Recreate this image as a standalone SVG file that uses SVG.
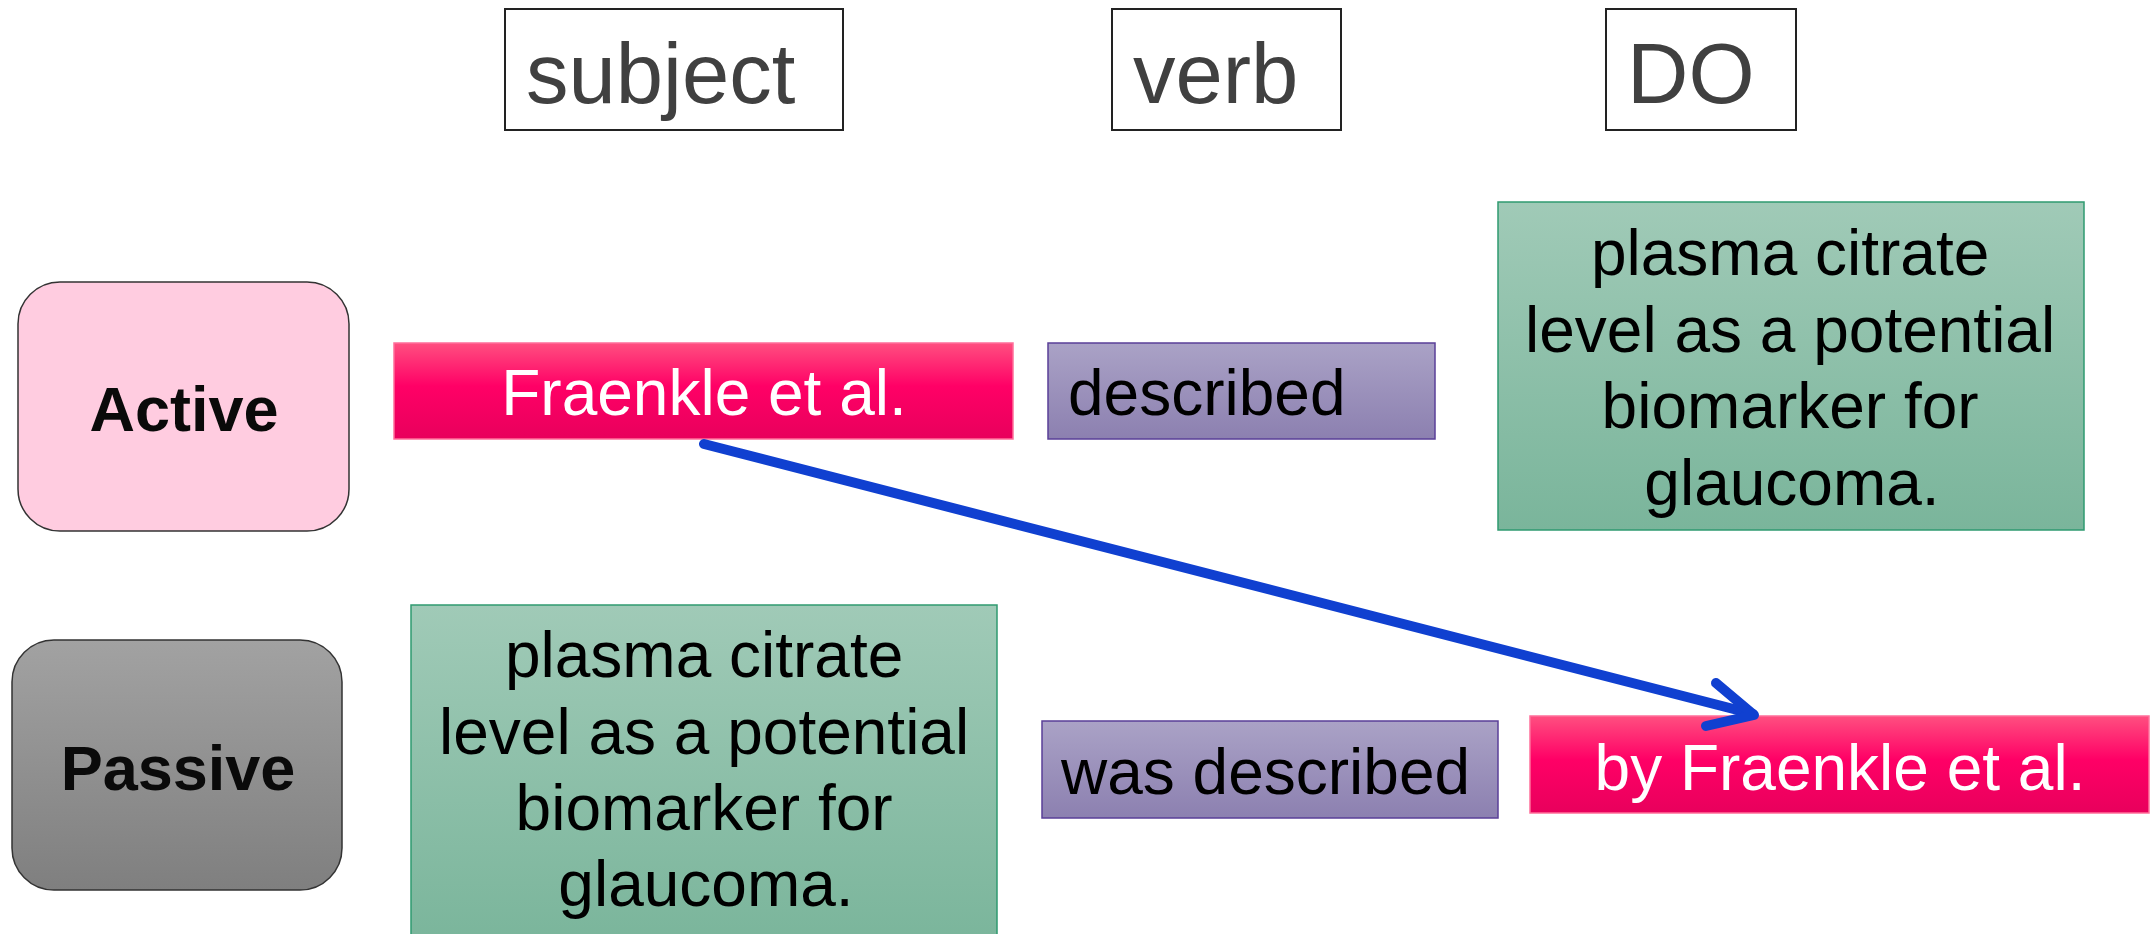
<svg xmlns="http://www.w3.org/2000/svg" width="2153" height="934" viewBox="0 0 2153 934">
<defs>
<linearGradient id="gPink" x1="0" y1="0" x2="0" y2="1">
<stop offset="0" stop-color="#ff4f80"/>
<stop offset="0.45" stop-color="#ff0066"/>
<stop offset="1" stop-color="#e8005c"/>
</linearGradient>
<linearGradient id="gPurple" x1="0" y1="0" x2="0" y2="1">
<stop offset="0" stop-color="#aaa2c6"/>
<stop offset="1" stop-color="#8c80b0"/>
</linearGradient>
<linearGradient id="gGreen" x1="0" y1="0" x2="0" y2="1">
<stop offset="0" stop-color="#a0cab7"/>
<stop offset="1" stop-color="#7ab59b"/>
</linearGradient>
<linearGradient id="gGray" x1="0" y1="0" x2="0" y2="1">
<stop offset="0" stop-color="#a2a2a2"/>
<stop offset="1" stop-color="#7f7f7f"/>
</linearGradient>
</defs>
<style>
text{font-family:"Liberation Sans",Arial,sans-serif;}
.hdr{fill:#ffffff;stroke:#222222;stroke-width:2;}
.hdrt{font-size:85px;fill:#404040;}
.body{font-size:64px;fill:#000000;}
.white{font-size:64px;fill:#ffffff;}
.bold{font-size:63px;font-weight:bold;fill:#0a0a0a;}
.pink{fill:url(#gPink);stroke:#ff6f9a;stroke-width:1.5;}
.purple{fill:url(#gPurple);stroke:#5a3f98;stroke-width:1.5;}
.green{fill:url(#gGreen);stroke:#2f9a70;stroke-width:1.5;}
.conn{fill:none;stroke:#1040d0;stroke-width:10;stroke-linecap:round;stroke-linejoin:round;}
</style>
<g id="hdr-subject">
<rect class="hdr" x="505" y="9" width="338" height="121"/>
<text class="hdrt" x="526" y="103">subject</text>
</g>
<g id="hdr-verb">
<rect class="hdr" x="1112" y="9" width="229" height="121"/>
<text class="hdrt" x="1133" y="103">verb</text>
</g>
<g id="hdr-do">
<rect class="hdr" x="1606" y="9" width="190" height="121"/>
<text class="hdrt" x="1627" y="103">DO</text>
</g>
<g id="active">
<rect x="18" y="282" width="331" height="249" rx="42" ry="42" fill="#ffcce0" stroke="#333333" stroke-width="1.5"/>
<text class="bold" x="184" y="431" text-anchor="middle">Active</text>
</g>
<g id="passive">
<rect x="12" y="640" width="330" height="250" rx="42" ry="42" fill="url(#gGray)" stroke="#333333" stroke-width="1.5"/>
<text class="bold" x="178" y="790" text-anchor="middle">Passive</text>
</g>
<g id="active-subject">
<rect class="pink" x="394" y="343" width="619" height="96"/>
<text class="white" x="704" y="415" text-anchor="middle">Fraenkle et al.</text>
</g>
<g id="active-verb">
<rect class="purple" x="1048" y="343" width="387" height="96"/>
<text class="body" x="1068" y="415">described</text>
</g>
<g id="active-do">
<rect class="green" x="1498" y="202" width="586" height="328"/>
<text class="body" text-anchor="middle">
<tspan x="1799" y="275">plasma citrate</tspan>
<tspan x="1799" y="352">level as a potential</tspan>
<tspan x="1799" y="428">biomarker for</tspan>
<tspan x="1792" y="505">glaucoma.</tspan>
</text>
</g>
<g id="passive-subject">
<rect class="green" x="411" y="605" width="586" height="340"/>
<text class="body" text-anchor="middle">
<tspan x="713" y="677">plasma citrate</tspan>
<tspan x="713" y="754">level as a potential</tspan>
<tspan x="713" y="830">biomarker for</tspan>
<tspan x="706" y="906">glaucoma.</tspan>
</text>
</g>
<g id="passive-verb">
<rect class="purple" x="1042" y="721" width="456" height="97"/>
<text class="body" x="1061" y="794">was described</text>
</g>
<g id="passive-do">
<rect class="pink" x="1530" y="716" width="619" height="97"/>
<text class="white" x="1840" y="790" text-anchor="middle">by Fraenkle et al.</text>
</g>
<g id="connectors">
<line class="conn" x1="704" y1="444" x2="1753" y2="714"/>
<polyline class="conn" points="1716,683 1754,715 1706,726"/>
</g>
</svg>
